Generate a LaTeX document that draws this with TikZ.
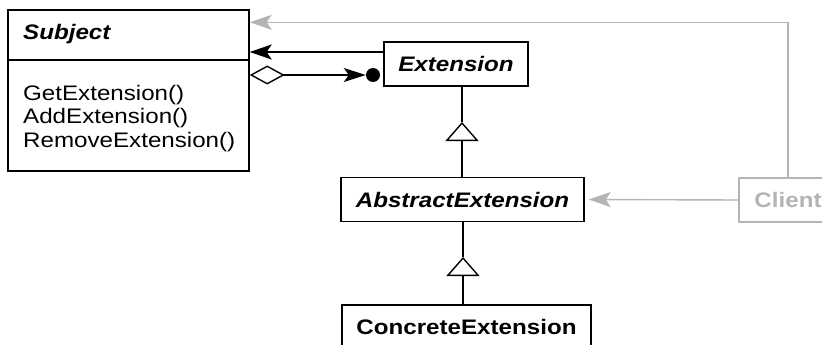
\documentclass[tikz,border=0pt]{standalone}
\usepackage{fontspec}
\setmainfont{Liberation Sans}
\usepackage{graphicx}
\usepackage{xcolor}
\definecolor{xgray}{HTML}{B4B4B4}
\usetikzlibrary{arrows.meta, positioning}
\newcommand{\widetext}[1]{\scalebox{1.15}[1]{#1}}
\tikzset{
  %% Styles %%
  umlfont/.style = {font=\fontsize{21}{24}\selectfont #1},
  classbox/.style = {draw, line width=1.4pt, inner sep=0pt, minimum height=44pt, umlfont=\bfseries},
  abstractbox/.style = {classbox, umlfont=\bfseries\itshape},
  clientbox/.style = {classbox, draw=xgray, text=xgray},
  method/.style = {anchor=base west, inner sep=0pt, umlfont},
  link/.style = {line width=1.4pt},
  assoc/.style = {link, -{Stealth[length=22pt, width=15pt, inset=5pt]}},
  aggr/.style = {link, {Diamond[open, length=35pt, width=19pt]}-{Stealth[length=22pt, width=14pt, inset=5pt]}},
  generalize/.style = {link, -{Triangle[open, length=19pt, width=33pt]}},
  dependency/.style = {assoc, draw=xgray}
}
\begin{document}
\begin{tikzpicture}[x=1pt, y=-1pt]
  \clip (0,0) rectangle (822,345);
  % Subject class
  \node[draw, line width=1.4pt, inner sep=0pt, minimum width=241pt, minimum height=161pt] (subject) at (128.5,90.5) {};
  \draw[link] (subject.west |- 0,60) -- (subject.east |- 0,60);
  \node[method, umlfont=\bfseries\itshape] (subjname) at (23,40) {\widetext{Subject}};
  \node[method] (m1) at (23,100) {\widetext{GetExtension()}};
  \node[method] (m2) at (23,123.5) {\widetext{AddExtension()}};
  \node[method] (m3) at (23,147) {\widetext{RemoveExtension()}};

  % Other classes
  \node[abstractbox, minimum width=144pt] (ext) at (456,64) {\widetext{Extension}};
  \node[abstractbox, minimum width=243pt] (abstract) at (462.5,199.5) {\widetext{AbstractExtension}};
  \node[classbox, minimum width=249pt] (concrete) at (466.5,327) {\widetext{ConcreteExtension}};
  \node[clientbox, minimum width=98pt] (client) at (788,200) {\widetext{Client}};
  \node[circle, fill, inner sep=0pt, minimum size=14pt] (socket) at (373,75) {};

  % Connectors
  \coordinate (a1) at ([yshift=12pt]ext.west);
  \draw[assoc] (a1) -- (a1 -| subject.east);
  \draw[aggr] (subject.east |- socket) -- (socket.west);
  \draw[dependency] (client.north) |- ([yshift=-13pt]subject.north east);
  \draw[dependency, shorten >=4pt] (client.west) -- (abstract.east);

  \coordinate (tip1) at (462,122);
  \draw[link] (ext.south -| tip1) -- (tip1);
  \draw[generalize] (abstract.north -| tip1) -- (tip1);
  \coordinate (tip2) at (463,257);
  \draw[link] (abstract.south -| tip2) -- (tip2);
  \draw[generalize] (concrete.north -| tip2) -- (tip2);
\end{tikzpicture}
\end{document}
